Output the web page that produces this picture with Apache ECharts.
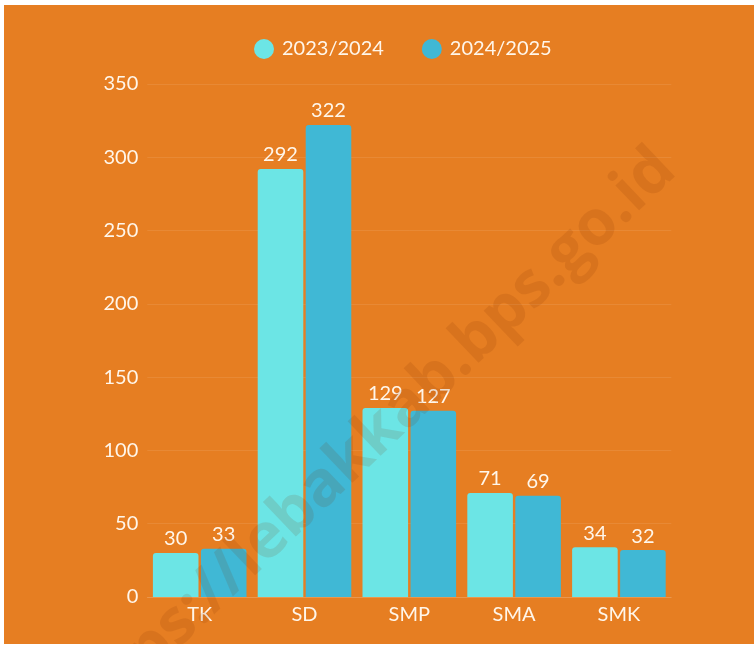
<!DOCTYPE html>
<html>
<head>
<meta charset="utf-8">
<script src="https://cdn.jsdelivr.net/npm/echarts@6/dist/echarts.min.js"></script>
<style>
html,body{margin:0;padding:0;background:#ffffff;width:754px;height:645px;overflow:hidden;}
#chart{position:absolute;left:4px;top:5px;width:750px;height:639px;}
</style>
</head>
<body>
<div id="chart"></div>
<script>
const categories = ['TK', 'SD', 'SMP', 'SMA', 'SMK'];
const seriesNames = ['2023/2024', '2024/2025'];
const values2023 = [30, 292, 129, 71, 34];
const values2024 = [33, 322, 127, 69, 32];
const yTicks = { min: 0, max: 350, interval: 50 };
const watermarkText = 'https://lebakkab.bps.go.id';

const textColor = '#FFF6EA';
const fontFamily = 'Lato, "Noto Sans", sans-serif';
const colors = ['#6CE5E5', '#40B8D5'];

const chart = echarts.init(document.getElementById('chart'), null, { renderer: 'canvas' });

function barSeries(name, data, color) {
  return {
    name: name,
    type: 'bar',
    data: data,
    barGap: '5.3%',
    barCategoryGap: '10.7%',
    itemStyle: { color: color, borderRadius: [3, 3, 0, 0] },
    label: {
      show: true,
      position: 'top',
      distance: 4,
      color: textColor,
      fontFamily: fontFamily,
      fontSize: 20
    }
  };
}

chart.setOption({
  backgroundColor: '#E67E22',
  animation: false,
  color: colors,
  legend: {
    top: 29,
    left: 245,
    icon: 'circle',
    itemWidth: 20,
    itemHeight: 20,
    itemGap: 38,
    textStyle: { color: textColor, fontFamily: fontFamily, fontSize: 20, padding: [0, 0, 0, 3] },
    data: seriesNames
  },
  grid: { left: 143.3, right: 82.7, top: 79, bottom: 47 },
  xAxis: {
    type: 'category',
    data: categories,
    axisLine: { show: true, lineStyle: { color: 'rgba(255,255,255,0.12)' } },
    axisTick: { show: false },
    axisLabel: { color: textColor, fontFamily: fontFamily, fontSize: 20, margin: 8 }
  },
  yAxis: {
    type: 'value',
    min: yTicks.min,
    max: yTicks.max,
    interval: yTicks.interval,
    axisLine: { show: false },
    axisTick: { show: false },
    splitLine: { lineStyle: { color: 'rgba(255,255,255,0.09)' } },
    axisLabel: { color: textColor, fontFamily: fontFamily, fontSize: 20, margin: 9 }
  },
  series: [
    barSeries(seriesNames[0], values2023, colors[0]),
    barSeries(seriesNames[1], values2024, colors[1])
  ],
  graphic: [{
    type: 'text',
    x: 662,
    y: 155,
    rotation: 0.76,
    z: 100,
    silent: true,
    style: {
      text: watermarkText,
      align: 'right',
      verticalAlign: 'middle',
      fontFamily: '"Open Sans", "DejaVu Sans", sans-serif',
      fontWeight: 'bold',
      fontSize: 63,
      fill: 'rgba(120,50,0,0.13)'
    }
  }]
});
</script>
</body>
</html>
